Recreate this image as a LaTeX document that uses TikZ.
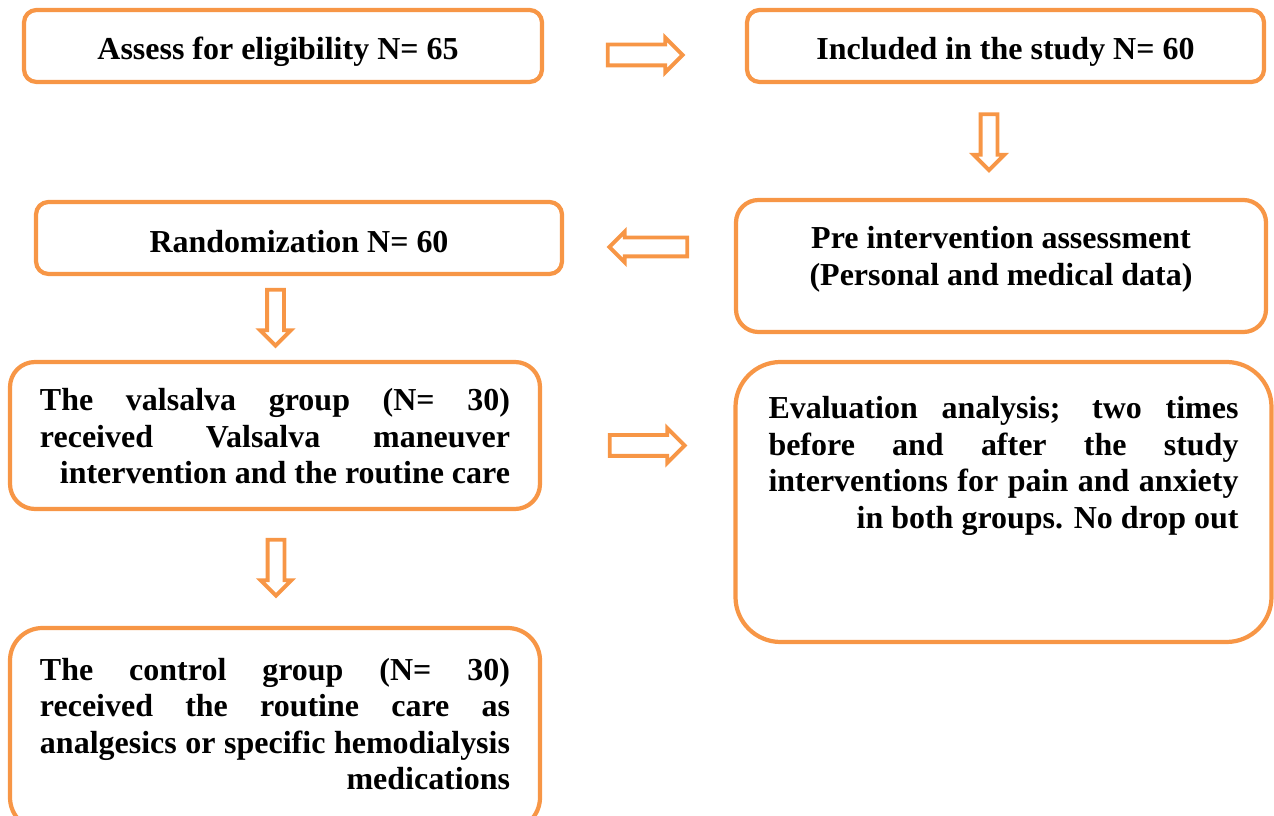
\documentclass[tikz,border=0pt]{standalone}
\usepackage{fontspec}
\setmainfont{Liberation Serif}
\usetikzlibrary{shapes.arrows}
\definecolor{borange}{HTML}{F79646}
\newcommand{\jl}[1]{\noindent\makebox[\hsize][s]{#1}\par}
\newcommand{\rl}[1]{\noindent\makebox[\hsize][r]{#1}\par}
\newcommand{\cl}[1]{\noindent\makebox[\hsize][c]{#1}\par}
\tikzset{
  box/.style={draw=borange, line width=2.4pt, rounded corners=#1, fill=white,
    font=\bfseries\fontsize{18.2}{20.8}\selectfont},
  rarrow/.style={single arrow, draw=borange, line width=2.2pt, inner sep=0.17cm,
    minimum height=1.5cm, single arrow head extend=0.14cm},
  larrow/.style={single arrow, draw=borange, line width=2.2pt, inner sep=0.15cm,
    minimum height=1.56cm, single arrow head extend=0.12cm, shape border rotate=180},
  darrow/.style={single arrow, draw=borange, line width=2.2pt, inner sep=0.13cm,
    minimum height=1.12cm, single arrow head extend=0.14cm, shape border rotate=270}
}
\begin{document}
\begin{tikzpicture}
\useasboundingbox (0,0) rectangle (25.48,-16.32);
% boxes
\node[box=0.25cm, minimum width=10.36cm, minimum height=1.44cm, text height=15.2pt, text depth=0pt] (assess) at (5.66,-0.92) {\hspace*{-0.2cm}Assess for eligibility N= 65};
\node[box=0.25cm, minimum width=10.34cm, minimum height=1.44cm, text height=15.2pt, text depth=0pt] (incl) at (20.11,-0.92) {Included in the study N= 60};
\node[box=0.25cm, minimum width=10.52cm, minimum height=1.44cm, text height=17pt, text depth=0pt] (rand) at (5.98,-4.76) {Randomization N= 60};
\node[box=0.45cm, inner xsep=0.6cm, inner ysep=0.53cm] (pre) at (20.02,-5.32) {%
\parbox[c][1.58cm][t]{9.4cm}{\cl{Pre intervention assessment}\cl{(Personal and medical data)}}};
\node[box=0.5cm, inner xsep=0.6cm, inner ysep=0.53cm] (vals) at (5.5,-8.71) {%
\parbox[c][1.88cm][t]{9.4cm}{\jl{The valsalva group (N= 30)}\jl{received Valsalva maneuver}\rl{intervention and the routine care}}};
\node[box=0.9cm, inner xsep=0.66cm, inner ysep=0.69cm] (eval) at (20.07,-10.04) {%
\parbox[c][4.22cm][t]{9.4cm}{\jl{Evaluation analysis; two times}\jl{before and after the study}\jl{interventions for pain and anxiety}\rl{in both groups. No drop out}}};
\node[box=0.65cm, inner xsep=0.6cm, inner ysep=0.6cm] (ctrl) at (5.5,-14.58) {%
\parbox[c][2.84cm][t]{9.4cm}{\jl{The control group (N= 30)}\jl{received the routine care as}\jl{analgesics or specific hemodialysis}\rl{medications}}};
% block arrows
\node[rarrow] (a1) at (12.8,-1.1) {};
\node[darrow] (a2) at (19.78,-2.76) {};
\node[larrow] (a3) at (13.06,-4.94) {};
\node[darrow] (a4) at (5.51,-6.27) {};
\node[rarrow] (a5) at (12.84,-8.91) {};
\node[darrow] (a6) at (5.52,-11.27) {};
\end{tikzpicture}
\end{document}
